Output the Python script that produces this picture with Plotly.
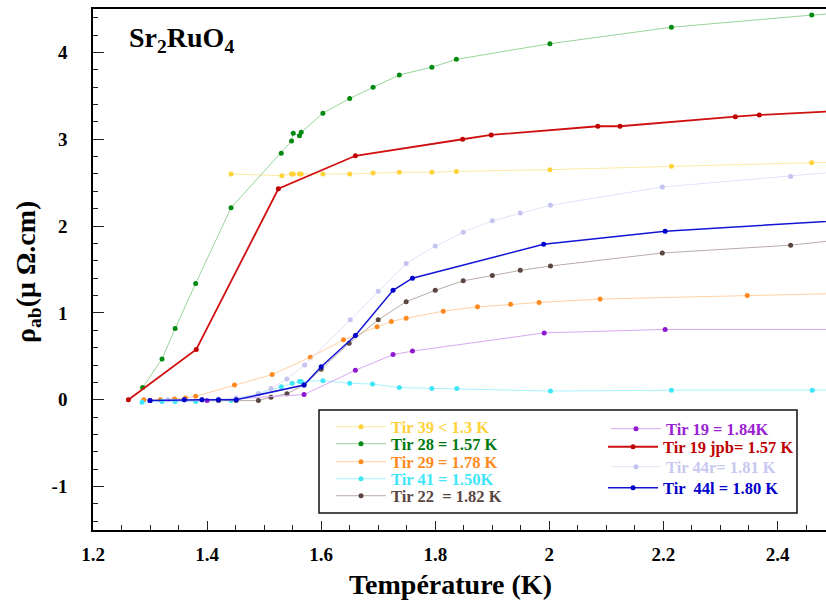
import plotly.graph_objects as go

# ---------------- data ----------------
T39 = [1.442, 1.531, 1.548, 1.551, 1.562, 1.565, 1.603, 1.650, 1.691, 1.737, 1.794, 1.837, 2.001, 2.214, 2.460, 2.55]
R39 = [2.60, 2.58, 2.60, 2.60, 2.60, 2.60, 2.60, 2.60, 2.61, 2.62, 2.62, 2.63, 2.65, 2.69, 2.73, 2.74]

T28 = [1.287, 1.321, 1.344, 1.380, 1.442, 1.530, 1.548, 1.551, 1.562, 1.565, 1.603, 1.650, 1.691, 1.737, 1.794, 1.837, 2.001, 2.214, 2.460, 2.55]
R28 = [0.14, 0.47, 0.82, 1.34, 2.21, 2.84, 2.98, 3.07, 3.04, 3.08, 3.30, 3.47, 3.60, 3.74, 3.83, 3.92, 4.10, 4.29, 4.43, 4.47]

T29 = [1.289, 1.318, 1.343, 1.362, 1.380, 1.448, 1.514, 1.581, 1.639, 1.698, 1.723, 1.749, 1.814, 1.874, 1.932, 1.982, 2.089, 2.347, 2.55]
R29 = [0.00, 0.00, 0.01, 0.02, 0.04, 0.17, 0.29, 0.49, 0.69, 0.84, 0.90, 0.94, 1.02, 1.07, 1.10, 1.12, 1.16, 1.20, 1.23]

T41 = [1.286, 1.321, 1.344, 1.380, 1.442, 1.490, 1.530, 1.549, 1.562, 1.565, 1.603, 1.650, 1.690, 1.737, 1.794, 1.838, 2.002, 2.214, 2.461, 2.55]
R41 = [-0.03, -0.02, -0.02, -0.02, -0.01, 0.07, 0.15, 0.19, 0.21, 0.21, 0.22, 0.19, 0.18, 0.14, 0.13, 0.13, 0.10, 0.11, 0.11, 0.11]

T22 = [1.360, 1.391, 1.420, 1.451, 1.490, 1.512, 1.540, 1.570, 1.600, 1.649, 1.700, 1.749, 1.800, 1.849, 1.900, 1.949, 2.002, 2.198, 2.423, 2.55]
R22 = [0.00, 0.00, -0.01, -0.01, -0.01, 0.03, 0.07, 0.17, 0.35, 0.65, 0.92, 1.13, 1.26, 1.37, 1.43, 1.49, 1.54, 1.69, 1.78, 1.87]

T19 = [1.300, 1.400, 1.570, 1.660, 1.726, 1.760, 1.991, 2.203, 2.55]
R19 = [-0.01, -0.01, 0.06, 0.34, 0.52, 0.56, 0.77, 0.81, 0.81]

T19jpb = [1.262, 1.381, 1.525, 1.660, 1.848, 1.898, 2.085, 2.124, 2.326, 2.368, 2.55]
R19jpb = [0.00, 0.58, 2.43, 2.81, 3.00, 3.05, 3.15, 3.15, 3.26, 3.28, 3.34]

T44r = [1.331, 1.360, 1.391, 1.420, 1.451, 1.490, 1.512, 1.540, 1.571, 1.651, 1.700, 1.749, 1.800, 1.849, 1.900, 1.949, 2.002, 2.198, 2.423, 2.55]
R44r = [0.00, 0.00, 0.00, 0.01, 0.02, 0.07, 0.13, 0.24, 0.40, 0.92, 1.25, 1.57, 1.77, 1.93, 2.06, 2.15, 2.24, 2.45, 2.57, 2.65]

T44l = [1.300, 1.360, 1.391, 1.420, 1.451, 1.570, 1.600, 1.660, 1.726, 1.760, 1.990, 2.203, 2.55]
R44l = [-0.01, 0.00, 0.00, 0.00, 0.00, 0.17, 0.38, 0.74, 1.26, 1.40, 1.79, 1.94, 2.08]

NAMES = ["Tir 39 < 1.3 K", "Tir 28 = 1.57 K", "Tir 29 = 1.78 K", "Tir 41 = 1.50K", "Tir 22  = 1.82 K",
         "Tir 19 = 1.84K", "Tir 19 jpb= 1.57 K", "Tir 44r= 1.81 K", "Tir  44l = 1.80 K"]

X_TICKS = [1.2, 1.4, 1.6, 1.8, 2.0, 2.2, 2.4]
X_TICK_LABELS = ["1.2", "1.4", "1.6", "1.8", "2", "2.2", "2.4"]
Y_TICKS = [-1, 0, 1, 2, 3, 4]
Y_TICK_LABELS = ["-1", "0", "1", "2", "3", "4"]

# ---------------- layout helpers ----------------
W, H = 826, 600
ML, MR, MT, MB = 93, 0, 9, 70
PW, PH = W - ML - MR, H - MT - MB


def px_x(px):
    return (px - ML) / PW


def px_y(py):
    return (H - MB - py) / PH


SERIF = "Liberation Serif"

# (x, y, name, line colour, marker colour, line width, legend text colour, legend column x, legend row y)
series = [
    (T39, R39, NAMES[0], "#fde9a4", "#ffd23a", 1.0, "#ffd23a", 331, 427),
    (T28, R28, NAMES[1], "#99d399", "#008a10", 1.0, "#007a10", 331, 444),
    (T29, R29, NAMES[2], "#ffd0a4", "#ff8a20", 1.0, "#ff8a20", 331, 462),
    (T41, R41, NAMES[3], "#a8f2ff", "#40e6f8", 1.0, "#40e6f8", 331, 479),
    (T22, R22, NAMES[4], "#b9aba6", "#5a4540", 1.0, "#5a4540", 331, 496),
    (T19, R19, NAMES[5], "#d8a8f2", "#9018d0", 1.0, "#9a22d2", 606, 429),
    (T19jpb, R19jpb, NAMES[6], "#d01010", "#c00000", 1.8, "#c00000", 603, 447),
    (T44r, R44r, NAMES[7], "#e2e2fa", "#c4c4f0", 1.0, "#c8c8f0", 606, 467),
    (T44l, R44l, NAMES[8], "#1414d4", "#0000cc", 1.5, "#0000cc", 603, 488),
]

fig = go.Figure()
layout_legends = {}
for i, (xs, ys, name, lc, mc, lw, tc, lx, ly) in enumerate(series):
    key = "legend" if i == 0 else f"legend{i + 1}"
    fig.add_trace(go.Scatter(
        x=xs, y=ys, name=name, mode="lines+markers",
        line=dict(color=lc, width=lw),
        marker=dict(color=mc, size=5, symbol="circle"),
        legend=key, cliponaxis=True,
    ))
    layout_legends[key] = dict(
        x=px_x(lx), y=px_y(ly), xanchor="left", yanchor="middle",
        bgcolor="rgba(0,0,0,0)", borderwidth=0, itemwidth=50,
        font=dict(family=SERIF, size=16.5, color=tc, weight="bold"),
    )

fig.update_layout(**layout_legends)

axis_font = dict(family=SERIF, size=19, color="black", weight="bold")

fig.update_layout(
    width=W, height=H,
    margin=dict(l=ML, r=MR, t=MT, b=MB, pad=0),
    paper_bgcolor="white", plot_bgcolor="white",
    showlegend=True,
    xaxis=dict(
        range=[1.2, 2.485], showgrid=False, zeroline=False,
        showline=True, linecolor="black", linewidth=1.5, mirror=True,
        ticks="inside", ticklen=9, tickwidth=1.2, tickcolor="#222",
        tickvals=X_TICKS, ticktext=X_TICK_LABELS, tickfont=axis_font,
        ticklabelstandoff=6,
        minor=dict(dtick=0.05, ticks="inside", ticklen=5, tickwidth=1, tickcolor="#222", showgrid=False),
    ),
    yaxis=dict(
        range=[-1.5, 4.5], showgrid=False, zeroline=False,
        showline=True, linecolor="black", linewidth=1.5,
        ticks="inside", ticklen=11, tickwidth=1.2, tickcolor="#222",
        tickvals=Y_TICKS, ticktext=Y_TICK_LABELS, tickfont=axis_font,
        ticklabelstandoff=20,
        minor=dict(dtick=0.2, ticks="inside", ticklen=5, tickwidth=1, tickcolor="#222", showgrid=False),
    ),
    shapes=[dict(type="rect", xref="paper", yref="paper",
                 x0=px_x(319), x1=px_x(797), y0=px_y(513), y1=px_y(410),
                 line=dict(color="#111", width=1.5), fillcolor="rgba(0,0,0,0)", layer="above")],
    annotations=[
        dict(text="Sr<sub>2</sub>RuO<sub>4</sub>", xref="paper", yref="paper",
             x=px_x(127), y=px_y(20), xanchor="left", yanchor="top", showarrow=False,
             font=dict(family=SERIF, size=28, color="black", weight="bold")),
        dict(text="ρ<sub>ab</sub>(μ Ω.cm)", xref="paper", yref="paper",
             x=px_x(27), y=px_y(272), xanchor="center", yanchor="middle", textangle=-90,
             showarrow=False, font=dict(family=SERIF, size=28, color="black", weight="bold")),
        dict(text="Température (K)", xref="paper", yref="paper",
             x=px_x(450), y=px_y(584), xanchor="center", yanchor="middle",
             showarrow=False, font=dict(family=SERIF, size=28, color="black", weight="bold")),
    ],
)

fig.write_html("out.html", config={"displayModeBar": False},
               post_script="document.body.style.margin='0';document.body.style.padding='0';")
